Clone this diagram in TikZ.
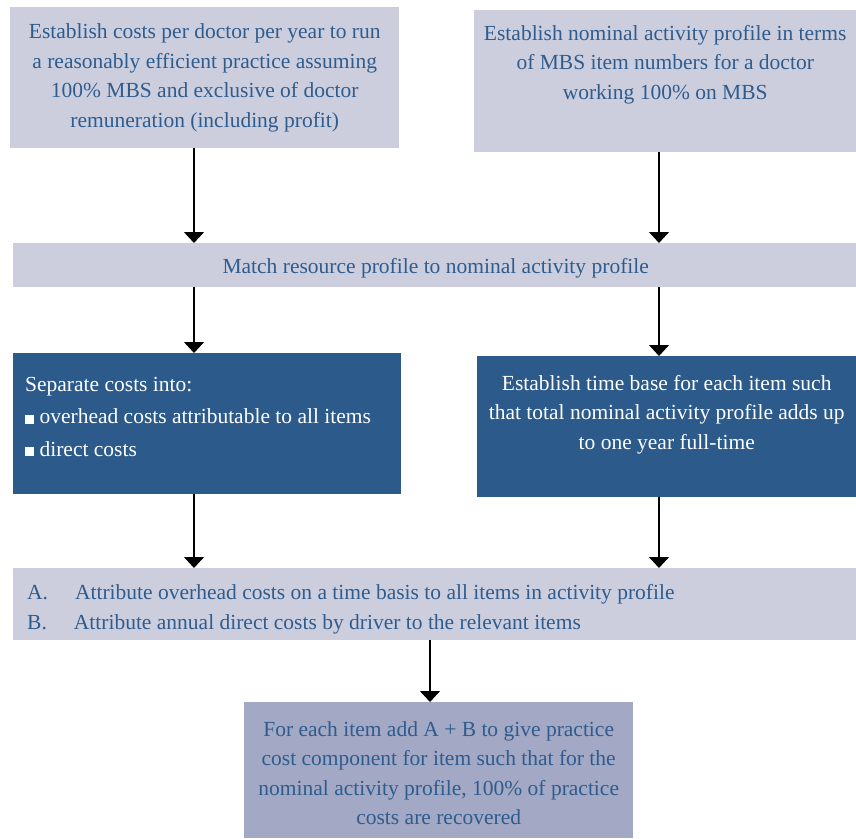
\documentclass[tikz,border=0pt]{standalone}
\usepackage{fontspec}
\setmainfont{Liberation Serif}
\usetikzlibrary{arrows.meta}
\definecolor{lightbox}{HTML}{CCCEDE}
\definecolor{darkbox}{HTML}{2C5A8A}
\definecolor{finalbox}{HTML}{A3A8C4}
\definecolor{txtblue}{HTML}{2E5C8E}
\tikzset{
  boxshape/.style={rectangle, inner sep=0pt, anchor=north west},
  lightshape/.style={boxshape, fill=lightbox},
  darkshape/.style={boxshape, fill=darkbox},
  finalshape/.style={boxshape, fill=finalbox},
  txt/.style={inner sep=0pt, align=center, font=\fontsize{21.5pt}{29.5pt}\selectfont, text=txtblue},
  wtxt/.style={txt, text=white},
  flow/.style={draw=black, line width=1.2pt, -{Triangle[width=20pt,length=11pt]}}
}
\begin{document}
\begin{tikzpicture}[x=1pt,y=-1pt]
\useasboundingbox (0,0) rectangle (856,838);
% top boxes
\node[lightshape, minimum width=389pt, minimum height=141pt] (b1) at (10,7) {};
\node[txt] (t1) at (b1.center) {Establish costs per doctor per year to run\\a reasonably efficient practice assuming\\100\% MBS and exclusive of doctor\\remuneration (including profit)};
\node[lightshape, minimum width=382pt, minimum height=142pt] (b2) at (474,10) {};
\node[txt, anchor=north] (t2) at ([yshift=-15pt]b2.north) {Establish nominal activity profile in terms\\of MBS item numbers for a doctor\\working 100\% on MBS};
% match bar
\node[lightshape, minimum width=843pt, minimum height=44pt] (b3) at (13,243) {};
\node[txt] (t3) at ([xshift=1pt,yshift=-3pt]b3.center) {Match resource profile to nominal activity profile};
% dark boxes
\node[darkshape, minimum width=388pt, minimum height=141pt] (b4) at (13,353) {};
\node[wtxt, align=left, anchor=north west, font=\fontsize{21.5pt}{32.5pt}\selectfont] (t4) at ([xshift=12pt,yshift=-24pt]b4.north west) {Separate costs into:\\\rule{9pt}{9pt} overhead costs attributable to all items\\\rule{9pt}{9pt} direct costs};
\node[darkshape, minimum width=379pt, minimum height=141pt] (b5) at (477,356) {};
\node[wtxt, anchor=north] (t5) at ([yshift=-19pt]b5.north) {Establish time base for each item such\\that total nominal activity profile adds up\\to one year full-time};
% AB bar
\node[lightshape, minimum width=843pt, minimum height=72pt] (b6) at (13,568) {};
\node[txt, align=left, anchor=north west, font=\fontsize{21.5pt}{30pt}\selectfont] (t6) at ([xshift=14pt,yshift=-16pt]b6.north west) {A.\hspace{27pt}Attribute overhead costs on a time basis to all items in activity profile\\B.\hspace{27pt}Attribute annual direct costs by driver to the relevant items};
% final box
\node[finalshape, minimum width=389pt, minimum height=136pt] (b7) at (244,702) {};
\node[txt] (t7) at ([yshift=-3pt]b7.center) {For each item add A + B to give practice\\cost component for item such that for the\\nominal activity profile, 100\% of practice\\costs are recovered};
\coordinate (c7) at (430,702);
% arrows
\draw[flow] (b1.south -| 194,0) -- (b3.north -| 194,0);
\draw[flow] (b2.south -| 659,0) -- (b3.north -| 659,0);
\draw[flow] (b3.south -| 194,0) -- (b4.north -| 194,0);
\draw[flow] (b3.south -| 659,0) -- (b5.north -| 659,0);
\draw[flow] (b4.south -| 194,0) -- (b6.north -| 194,0);
\draw[flow] (b5.south -| 659,0) -- (b6.north -| 659,0);
\draw[flow] (b6.south -| c7) -- (c7);
\end{tikzpicture}
\end{document}
